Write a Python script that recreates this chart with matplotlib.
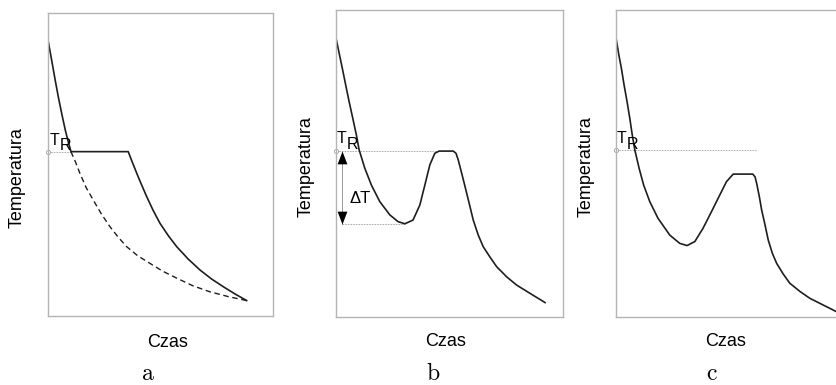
import numpy as np
import matplotlib.pyplot as plt
from matplotlib.path import Path

plt.rcParams['font.family'] = ['Liberation Sans', 'DejaVu Sans']
plt.rcParams['mathtext.fontset'] = 'cm'

# wykres a: krzepnięcie z plateau
a_x = [0, 1.0, 2.0, 3.3, 4.7, 6.2, 7.8, 9.0, 10.3, 35.7, 37.2, 39.5, 41.7, 43.9, 46.8,
       49.8, 53.5, 57.2, 62.3, 67.5, 72.7, 77.8, 83.0, 88.2]
a_y = [91.7, 87.6, 83.5, 78.0, 72.4, 66.9, 61.4, 57.9, 54.3, 54.3, 51.4, 47.1, 43.2, 39.4, 34.8,
       30.6, 26.5, 22.9, 18.8, 15.2, 12.2, 9.7, 7.3, 5.1]
a_dash_x = [10.3, 12.3, 14.3, 17.0, 20.2, 23.8, 27.6, 31.3, 35.0, 39.9, 45.3, 51.0, 57.2,
            64.3, 71.9, 80.1, 88.2]
a_dash_y = [54.3, 50.9, 47.1, 42.5, 38.3, 33.7, 29.5, 26.0, 22.9, 19.9, 17.4, 14.8, 12.5,
            10.0, 8.0, 6.4, 5.1]
a_tr = 54.3

# wykres b: przechłodzenie, rekalescencja do T_R
b_x = [0.3, 1.6, 2.9, 4.4, 5.9, 7.5, 9.1, 10.3, 12.8, 15.7, 19.4, 23.8, 27.4, 30.4, 34.0,
       37.0, 39.2, 41.4, 43.6, 45.5, 51.7, 52.9, 53.9, 55.4, 56.9, 58.7, 60.5, 62.7, 64.9,
       67.9, 70.8, 75.2, 79.6, 85.5, 92.1]
b_y = [90.2, 85.6, 81.0, 75.5, 70.1, 64.7, 59.2, 54.4, 48.4, 42.9, 37.5, 33.2, 31.0, 30.3, 31.5,
       36.4, 42.9, 49.5, 53.3, 54.0, 54.0, 53.3, 51.1, 46.8, 42.4, 37.0, 31.5, 26.6, 22.8,
       19.4, 16.3, 13.0, 10.3, 7.6, 4.6]
b_tr = 54.0
b_min = 30.3

# wykres c: rekalescencja poniżej T_R
c_x = [0.3, 1.3, 2.5, 3.7, 5.0, 6.2, 7.3, 8.4, 10.3, 12.3, 15.0, 18.6, 23.8, 28.2, 31.4,
       34.8, 38.4, 42.1, 45.8, 48.7, 51.7, 60.3, 61.3, 62.0, 63.2, 64.2, 65.7, 67.1, 68.9,
       70.8, 73.7, 76.6, 81.1, 85.4, 91.3, 97.2]
c_y = [90.2, 85.7, 81.0, 75.5, 70.1, 64.7, 59.2, 54.4, 48.4, 42.9, 37.5, 32.1, 26.6, 23.9, 23.2,
       24.5, 28.8, 34.2, 39.7, 44.0, 46.5, 46.5, 45.6, 43.5, 39.1, 34.8, 29.9, 25.0, 20.7,
       17.4, 13.9, 10.9, 8.2, 6.0, 3.8, 1.6]
c_tr = 54.4

fig = plt.figure(figsize=(8.37, 3.85), dpi=100)
ax_a = fig.add_axes([0.0570, 0.1792, 0.2695, 0.7862])
ax_b = fig.add_axes([0.4011, 0.1774, 0.2716, 0.7966])
ax_c = fig.add_axes([0.7356, 0.1774, 0.2716, 0.7966])

gray = '#b4b4b4'
dot = '#a0a0a0'
ink = '#1e1e1e'

def setup(ax, ylab_pos, xlab_pos, letter_pos, letter):
    ax.set_xlim(0, 100)
    ax.set_ylim(0, 100)
    ax.set_xticks([])
    ax.set_yticks([])
    for s in ax.spines.values():
        s.set_color(gray)
        s.set_linewidth(1.0)
    ax.text(ylab_pos[0], ylab_pos[1], 'Temperatura', transform=ax.transAxes, rotation=90,
            ha='center', va='center', fontsize=13)
    ax.text(xlab_pos[0], xlab_pos[1], 'Czas', transform=ax.transAxes,
            ha='center', va='center', fontsize=13)
    ax.text(letter_pos[0], letter_pos[1], r'$\mathrm{%s}$' % letter, transform=ax.transAxes,
            ha='center', va='baseline', fontsize=17)

def tr_label(ax, x, y):
    ax.annotate('T', (x, y), fontsize=11.5, ha='left', va='baseline')
    ax.annotate('R', (x, y), xytext=(7.2, -4.0), textcoords='offset points',
                fontsize=11.5, ha='left', va='baseline')

def tr_line(ax, x1, y):
    ax.plot([0, x1], [y, y], color=dot, lw=0.6, dashes=(2, 1.2), clip_on=False)
    ax.plot([0], [y], marker='o', ms=3, mfc='white', mec=dot, mew=0.6, clip_on=False)

# a
setup(ax_a, (-0.136, 0.456), (0.533, -0.086), (0.445, -0.210), 'a')
tr_line(ax_a, 10.3, a_tr)
ax_a.plot(a_dash_x, a_dash_y, color=ink, lw=1.0, dashes=(4, 2.6))
ax_a.plot(a_x, a_y, color=ink, lw=1.2, solid_joinstyle='round')
tr_label(ax_a, 1.0, 56.6)

# b
setup(ax_b, (-0.131, 0.491), (0.485, -0.082), (0.428, -0.205), 'b')
tr_line(ax_b, 45.5, b_tr)
ax_b.plot([2.9, 30.4], [b_min, b_min], color=dot, lw=0.6, dashes=(2, 1.2))
ax_b.plot(b_x, b_y, color=ink, lw=1.2, solid_joinstyle='round')
ax_b.plot([2.9, 2.9], [b_tr, b_min], color='#999999', lw=0.7)
head_up = Path([(0, 0), (-0.38, -1), (0.38, -1), (0, 0)])
head_dn = Path([(0, 0), (-0.38, 1), (0.38, 1), (0, 0)])
ax_b.plot([2.9], [b_tr], marker=head_up, ms=18.5, color='black', mew=0)
ax_b.plot([2.9], [b_min], marker=head_dn, ms=18.5, color='black', mew=0)
ax_b.text(6.0, 38.4, '\u0394T', fontsize=12, ha='left', va='center')
tr_label(ax_b, 0.6, 56.6)

# c
setup(ax_c, (-0.131, 0.491), (0.485, -0.082), (0.424, -0.205), 'c')
tr_line(ax_c, 61.7, c_tr)
ax_c.plot(c_x, c_y, color=ink, lw=1.2, solid_joinstyle='round')
tr_label(ax_c, 0.6, 56.6)

plt.savefig('out.png', dpi=100)
